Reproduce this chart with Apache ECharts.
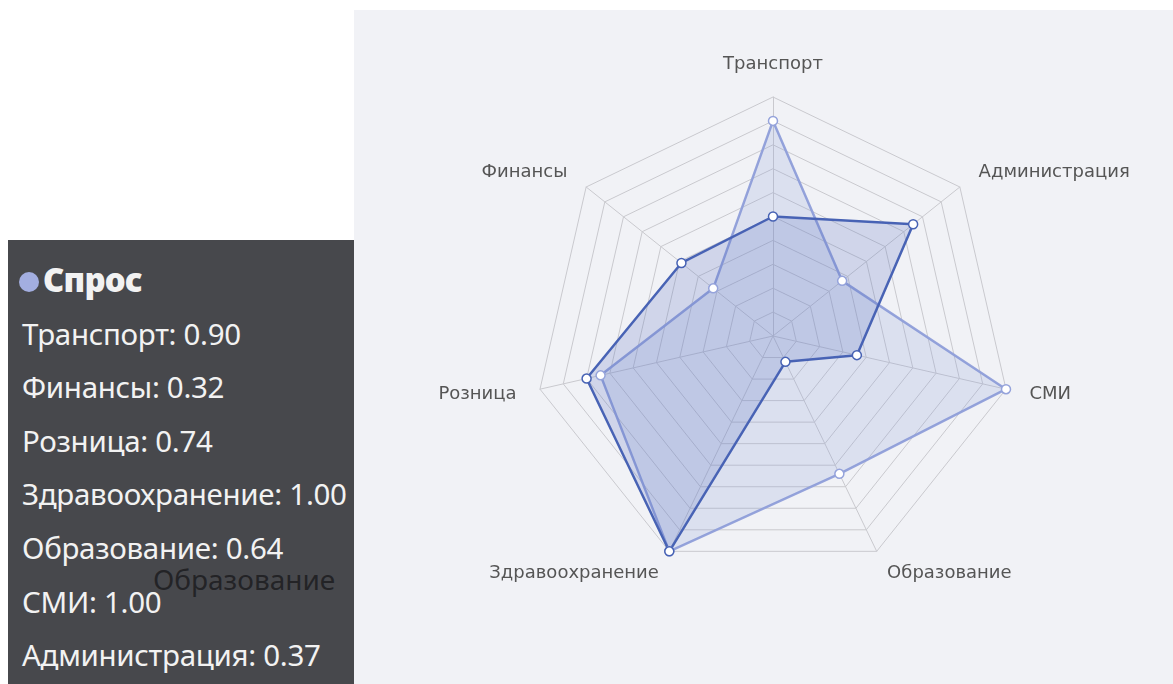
<!DOCTYPE html>
<html lang="ru">
<head>
  <meta charset="utf-8">
  <style>
    body { margin: 0; background: #fff; width: 1173px; height: 684px; position: relative; overflow: hidden; }
    #container { position: absolute; left: 354px; top: 10px; width: 819px; height: 674px; background: #f1f2f6; }
    .tip {
      position: absolute; left: 8px; top: 240px; width: 346px; height: 444px;
      background: #47484c; color: #f2f2f2; font-family: 'Noto Sans', sans-serif;
      font-size: 29.5px; line-height: 53.6px; padding: 13px 0 0 14px; box-sizing: border-box;
      overflow: hidden; letter-spacing: -0.3px;
    }
    .tip .title { font-weight: 900; font-size: 33px; letter-spacing: -0.8px; }
    .tip .dot { display: inline-block; width: 20px; height: 20px; border-radius: 50%; margin: 0 4px 0 -3px; vertical-align: 0px; }
    .tip .ghost { position: absolute; left: 145px; top: 313px; color: rgba(25, 25, 28, 0.8); font-size: 28px; letter-spacing: 0px; }
  </style>
</head>
<body>
  <div id="container"></div>
  <div class="tip" id="tip"></div>

  <script type="text/javascript" src="https://fastly.jsdelivr.net/npm/echarts@6/dist/echarts.min.js"></script>
  <script type="text/javascript">
    const indicators = ['Транспорт', 'Финансы', 'Розница', 'Здравоохранение', 'Образование', 'СМИ', 'Администрация'];
    const demandValues = [0.90, 0.32, 0.74, 1.00, 0.64, 1.00, 0.37];
    const supplyValues = [0.50, 0.49, 0.80, 1.00, 0.12, 0.36, 0.75];
    const demandColor = '#95a3db';
    const supplyColor = '#4762b4';

    var dom = document.getElementById('container');
    var myChart = echarts.init(dom, null, { renderer: 'canvas' });

    var option = {
      animation: false,
      radar: {
        center: [419, 326],
        radius: 239,
        startAngle: 90,
        splitNumber: 10,
        shape: 'polygon',
        nameGap: 24,
        indicator: indicators.map(function (n) { return { name: n, max: 1, min: 0 }; }),
        axisName: {
          color: '#555',
          fontSize: 18,
          fontFamily: 'DejaVu Sans'
        },
        splitLine: { lineStyle: { color: '#c9c9ce', width: 1 } },
        splitArea: { show: false },
        axisLine: { lineStyle: { color: '#c9c9ce', width: 1 } }
      },
      series: [
        {
          type: 'radar',
          symbol: 'circle',
          symbolSize: 9,
          data: [
            {
              name: 'Спрос',
              value: demandValues,
              lineStyle: { color: demandColor, width: 2.5 },
              itemStyle: { color: '#fff', borderColor: demandColor, borderWidth: 1.5 },
              areaStyle: { color: 'rgba(130, 148, 214, 0.27)' }
            },
            {
              name: 'Предложение',
              value: supplyValues,
              lineStyle: { color: supplyColor, width: 2.5 },
              itemStyle: { color: '#fff', borderColor: supplyColor, borderWidth: 1.5 },
              areaStyle: { color: 'rgba(84, 108, 190, 0.3)' }
            }
          ]
        }
      ]
    };
    myChart.setOption(option);

    // static copy of the tooltip for the first series
    var tip = document.getElementById('tip');
    var html = '<div class="title"><span class="dot" style="background:#a3aee0"></span>Спрос</div>';
    for (let i = 0; i < indicators.length; ++i) {
      html += '<div>' + indicators[i] + ': ' + demandValues[i].toFixed(2) + '</div>';
    }
    html = '<div class="ghost">' + indicators[4] + '</div>' + html;
    tip.innerHTML = html;

    window.addEventListener('resize', myChart.resize);
  </script>
</body>
</html>
